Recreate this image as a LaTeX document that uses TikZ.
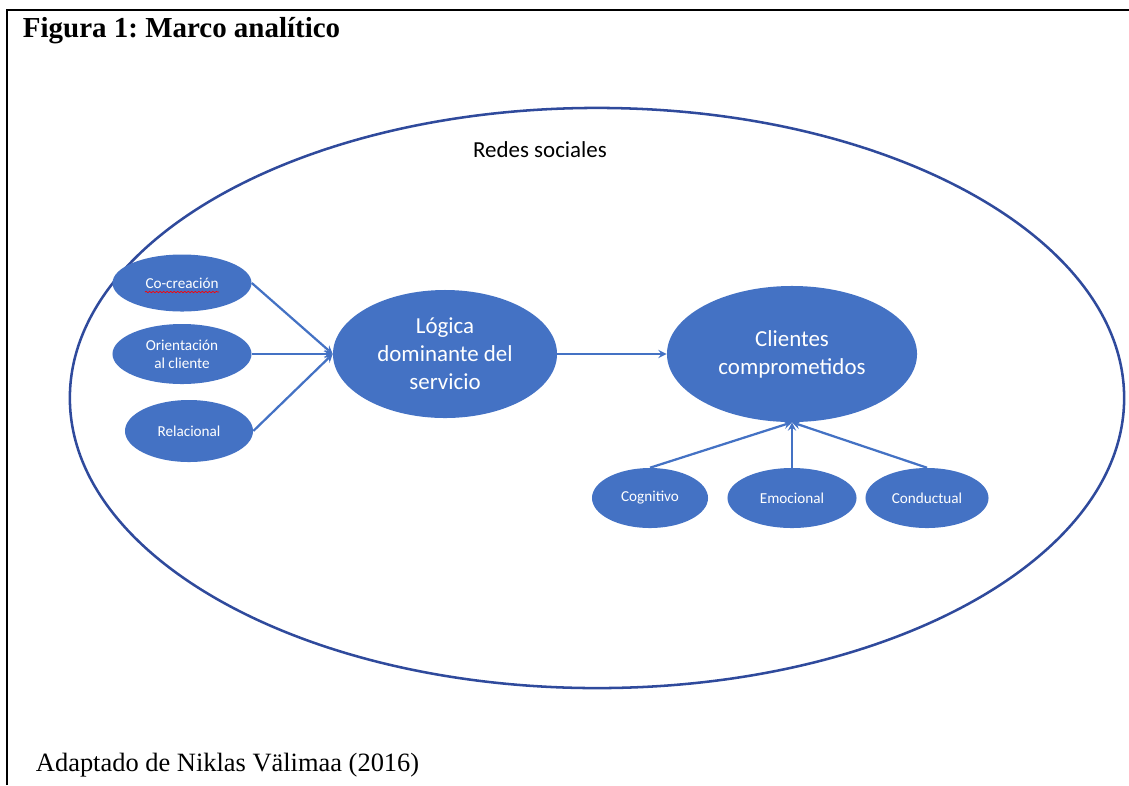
\documentclass[tikz,border=0pt]{standalone}
\usepackage{fontspec}
\setmainfont{Liberation Serif}
\newfontfamily\calibri{Carlito}
\usetikzlibrary{shapes.geometric, arrows, decorations.pathmorphing}
\definecolor{nodeblue}{HTML}{4472C4}
\definecolor{ringblue}{HTML}{2F4A9C}
\tikzstyle{bubble} = [ellipse, fill=nodeblue, text=white, align=center, inner sep=0pt]
\tikzstyle{small} = [bubble, font=\calibri\fontsize{10.8}{13}\selectfont]
\tikzstyle{big} = [bubble, font=\calibri\fontsize{16.3}{20}\selectfont]
\tikzstyle{arrow} = [line width=1.6pt, draw=nodeblue, ->, >=stealth]

\begin{document}
\frenchspacing
\begin{tikzpicture}[x=0.025cm, y=-0.025cm]
\useasboundingbox (0,0) rectangle (1129,785);
% frame
\draw [line width=1.4pt] (7,785) -- (7,10) -- (1129,10);
\node (titulo) [anchor=west, font=\bfseries\fontsize{20.6}{24}\selectfont] at (18,31) {Figura 1: Marco analítico};
\node (fuente) [anchor=west, font=\fontsize{18.8}{22}\selectfont] at (31,765) {Adaptado de Niklas Välimaa (2016)};
% big ellipse
\node (redes) [ellipse, draw=ringblue, line width=1.8pt, minimum width=26.35cm, minimum height=14.5cm] at (597,398) {};
\node (redeslbl) [font=\calibri\fontsize{16.3}{19}\selectfont] at (540,150) {Redes sociales};
% left side
\node (cocrea) [small, minimum width=3.475cm, minimum height=1.425cm] at (182,283) {Co-creación};
\node (orient) [small, minimum width=3.475cm, minimum height=1.5cm] at (182,354) {Orientación\\al cliente};
\node (relac) [small, minimum width=3.2cm, minimum height=1.55cm] at (189,431) {Relacional};
\node (logica) [big, minimum width=5.6cm, minimum height=3.2cm] at (445,354) {Lógica\\dominante del\\servicio};
\node (clientes) [big, minimum width=6.25cm, minimum height=3.4cm] at (792,354) {Clientes\\comprometidos};
% bottom row
\node (cogn) [small, minimum width=2.9cm, minimum height=1.5cm] at (650,498) {Cognitivo};
\node (emoc) [small, minimum width=3.225cm, minimum height=1.5cm] at (792,498) {Emocional};
\node (cond) [small, minimum width=3.075cm, minimum height=1.5cm] at (927,498) {Conductual};
% spell check mark
\draw [red, line width=0.5pt, decorate, decoration={snake, amplitude=0.5pt, segment length=2.5pt}] (cocrea.center) ++(-37,9) -- ++(74,0);
\draw [arrow] (cocrea.east) -- (logica.west);
\draw [arrow] (orient.east) -- (logica.west);
\draw [arrow] (relac.east) -- (logica.west);
\draw [arrow] (logica.east) -- (clientes.west);
\draw [arrow] (cogn.north) -- (clientes.south);
\draw [arrow] (emoc.north) -- (clientes.south);
\draw [arrow] (cond.north) -- (clientes.south);
\end{tikzpicture}
\end{document}
